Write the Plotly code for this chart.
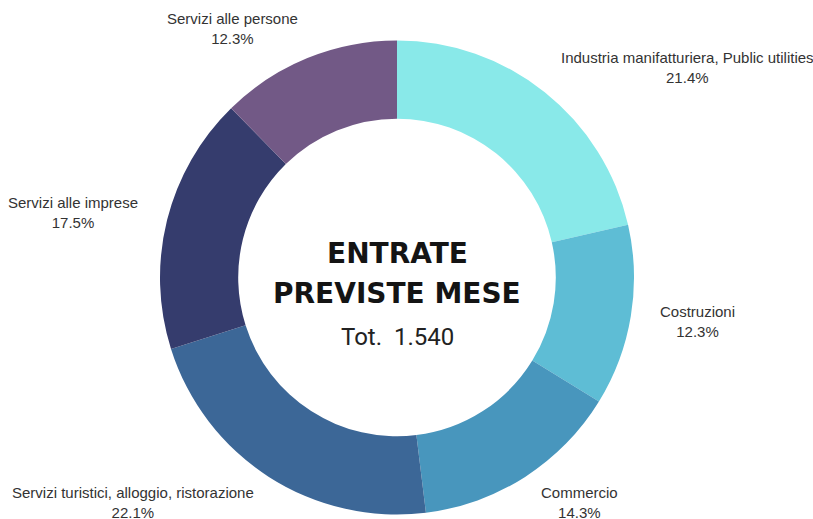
import plotly.graph_objects as go

categories = ["Industria manifatturiera, Public utilities", "Costruzioni", "Commercio",
              "Servizi turistici, alloggio, ristorazione", "Servizi alle imprese", "Servizi alle persone"]
values = [330, 190, 220, 340, 270, 190]
colors = ["#89E9E9", "#5EBDD5", "#4896BD", "#3C6797", "#353C6D", "#725986"]
label_pos = [(687, 68), (697, 321), (579, 502), (133, 502), (73, 213), (232, 29)]

W, H = 813, 519
total = sum(values)

fig = go.Figure(go.Pie(
    labels=categories, values=values, hole=0.67, sort=False, direction="clockwise",
    rotation=0, marker=dict(colors=colors, line=dict(width=0)),
    textinfo="none", hoverinfo="label+percent",
    domain=dict(x=[160 / W, 634 / W], y=[(H - 515) / H, (H - 40) / H]),
))

for cat, v, (px, py) in zip(categories, values, label_pos):
    fig.add_annotation(x=px / W, y=1 - py / H, xref="paper", yref="paper",
                       text=f"{cat}<br>{v / total * 100:.1f}%", showarrow=False,
                       font=dict(family="Liberation Sans, Arial", size=15, color="#333333"),
                       align="center", xanchor="center", yanchor="middle")

for txt, py in [("ENTRATE", 253), ("PREVISTE MESE", 293)]:
    fig.add_annotation(x=397 / W, y=1 - py / H, xref="paper", yref="paper",
                       text=f"<b>{txt}</b>", showarrow=False,
                       font=dict(family="DejaVu Sans", size=28, color="#141414"),
                       align="center", xanchor="center", yanchor="middle")
fig.add_annotation(x=397 / W, y=1 - 337 / H, xref="paper", yref="paper",
                   text=f"Tot.  {total:,}".replace(",", "."), showarrow=False,
                   font=dict(family="Roboto", size=24, color="#222222"),
                   align="center", xanchor="center", yanchor="middle")

fig.update_layout(width=W, height=H, margin=dict(l=0, r=0, t=0, b=0),
                  showlegend=False, paper_bgcolor="white", plot_bgcolor="white")
fig.write_html("out.html", config={"displayModeBar": False},
               post_script="document.body.style.margin='0';")
